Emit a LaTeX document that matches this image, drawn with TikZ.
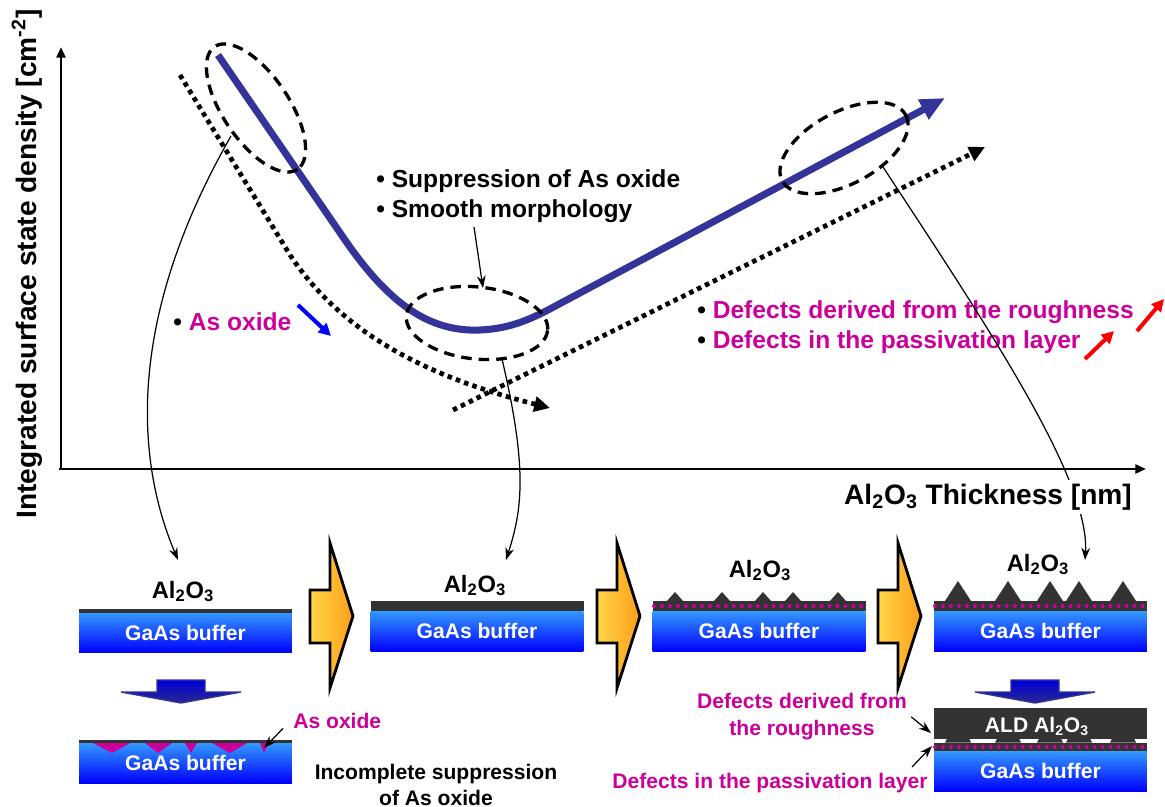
\documentclass[tikz,border=0pt]{standalone}
\usepackage{fontspec}
\setmainfont{Liberation Sans}
\usetikzlibrary{arrows.meta,calc}

\definecolor{curveblue}{RGB}{51,51,153}
\definecolor{pinktext}{RGB}{204,0,153}
\definecolor{gaastop}{RGB}{51,153,255}
\definecolor{gaasbot}{RGB}{0,0,255}
\definecolor{oxgray}{RGB}{51,51,51}
\definecolor{stageyel}{RGB}{255,214,72}
\definecolor{stageorg}{RGB}{255,158,26}
\definecolor{droptop}{RGB}{0,0,215}
\definecolor{dropbot}{RGB}{40,40,140}

% black list mark
\newcommand{\dotmark}{{\color{black}\textbullet}}

\begin{document}
\begin{tikzpicture}[
    x=0.02cm, y=-0.02cm, >=Stealth,
    big/.style={font=\fontsize{14}{17}\selectfont\bfseries, inner sep=0pt},
    mid/.style={font=\fontsize{13.5}{16}\selectfont\bfseries, inner sep=0pt},
    small/.style={font=\fontsize{12}{14.5}\selectfont\bfseries, inner sep=0pt},
    axlbl/.style={font=\fontsize{16}{19}\selectfont\bfseries, inner sep=0pt},
    axis/.style={line width=1.7pt, -{Triangle[length=6pt,width=5pt]}},
    curve/.style={draw=curveblue, line width=4pt, -{Triangle[length=14pt,width=12pt]}},
    trend/.style={line width=2.7pt, dash pattern=on 2.6pt off 2.4pt, -{Triangle[length=9pt,width=8.5pt]}},
    ring/.style={line width=1.9pt, dash pattern=on 6pt off 4pt},
    lead/.style={line width=0.7pt, -{Stealth[length=7pt,width=5pt]}},
    tip/.style={line width=2.3pt, -{Triangle[length=7pt,width=7pt]}},
    buffer/.style={minimum width=4.26cm, minimum height=0.8cm, inner sep=0pt, outer sep=0pt,
        top color=gaastop, bottom color=gaasbot, text=white, font=\fontsize{12}{14}\selectfont\bfseries},
    film/.style={fill=oxgray},
    pdots/.style={draw=pinktext, line width=2.3pt, line cap=round, dash pattern=on 0pt off 4.54pt},
    stage/.style={draw=black, line width=1.6pt, left color=stageyel, right color=stageorg},
    drop/.style={draw=curveblue, line width=0.8pt, top color=droptop, bottom color=dropbot}
]
    \useasboundingbox (0,0) rectangle (1165,807);

    % axes
    \coordinate (origin) at (61,469);
    \coordinate (ytop) at (61,47);
    \coordinate (xend) at (1146,469);
    \draw[axis] (origin) -- (ytop);
    \draw[axis] ([xshift=-1pt]origin) -- (xend);
    \node[axlbl, rotate=90] (ylab) at (27,264) {Integrated surface state density [cm\textsuperscript{-2}]};

    % trends
    \draw[trend] (180,75) -- (290,255) .. controls (340,330) and (420,375) .. (550,408);
    \draw[trend] (453,410) -- (985,147);
    \draw[curve] (218,55) -- (345,240) .. controls (390,305) and (430,332) .. (480,330)
        .. controls (505,329) and (525,322) .. (548,310) -- (945,98);

    % marked regions
    \draw[ring, rotate around={-56:(256,108)}] (256,108) ellipse (74 and 33);
    \draw[ring, rotate around={-6:(477,323)}] (477,323) ellipse (71 and 36);
    \draw[ring, rotate around={28:(844,148)}] (844,148) ellipse (70 and 36);
    \coordinate (e1foot) at (231,136);
    \coordinate (e2head) at (483,288);
    \coordinate (e2foot) at (502,359);
    \coordinate (e3foot) at (883,167);

    % notes on the plot
    \node[big, anchor=base west] (supp) at (376,188) {\dotmark\ Suppression of As oxide};
    \node[big, anchor=base west] (smooth) at (376,218) {\dotmark\ Smooth morphology};
    \node[big, anchor=base west, text=pinktext] (asplot) at (173,330) {\dotmark\ As oxide};
    \node[big, anchor=base west, text=pinktext] (rough) at (697,318) {\dotmark\ Defects derived from the roughness};
    \node[big, anchor=base west, text=pinktext] (passiv) at (697,348) {\dotmark\ Defects in the passivation layer};
    \draw[tip, blue] (298,305) -- (331,336);
    \draw[tip, red] (1137,331) -- (1164,299);
    \draw[tip, red] (1085,359) -- (1114,331);

    % stacks
    \node[buffer] (p1) at (185.5,632.5) {GaAs buffer};
    \node[buffer] (p2) at (477,631) {GaAs buffer};
    \node[buffer] (p3) at (759,631) {GaAs buffer};
    \node[buffer] (p4) at (1040.5,631) {GaAs buffer};
    \node[buffer] (p1b) at (185.5,763) {GaAs buffer};
    \node[buffer] (p5) at (1040.5,771) {GaAs buffer};
    \fill[film] (p1.north west) rectangle ++(213,-3.5);
    \fill[film] (p2.north west) rectangle ++(213,-10);
    \fill[film] (p3.north west) rectangle ++(213,-10);
    \fill[film] (p4.north west) rectangle ++(213,-10);
    \fill[film] (p1b.north west) rectangle ++(213,-3.5);
    \fill[film] (p5.north west) rectangle ++(213,-43);
    \foreach \c in {675,722,763,793,838}
        \fill[film] ({\c-8},601) -- (\c,592) -- ({\c+8},601) -- cycle;
    \foreach \c in {958,1008,1050,1079,1123}
        \fill[film] ({\c-13},601) -- (\c,581) -- ({\c+13},601) -- cycle;
    \fill[white] (934,739) rectangle (1147,742.5);
    \foreach \c in {958,1008,1050,1079,1123}
        \fill[film] ({\c-13},742.5) -- ({\c-11},738.5) -- ({\c+11},738.5) -- ({\c+13},742.5) -- cycle;
    \foreach \a/\b/\t in {93/130/112, 145/172/158, 185/197/191, 212/247/230, 260/268/264}
        \fill[pinktext] (\a,743) -- (\b,743) -- (\t,753) -- cycle;
    \draw[pdots] (654,606) -- (865,606);
    \draw[pdots] (935,606) -- (1147,606);
    \draw[pdots] (935,747) -- (1147,747);

    \node[mid, anchor=base] (al1) at (183,598) {Al\textsubscript{2}O\textsubscript{3}};
    \node[mid, anchor=base] (al2) at (475,592) {Al\textsubscript{2}O\textsubscript{3}};
    \node[mid, anchor=base] (al3) at (760,577) {Al\textsubscript{2}O\textsubscript{3}};
    \node[mid, anchor=base] (al4) at (1038,571) {Al\textsubscript{2}O\textsubscript{3}};
    \node[small, anchor=base, text=white] (ald) at (1037,732) {ALD Al\textsubscript{2}O\textsubscript{3}};

    % process steps
    \foreach \x in {310,597,878}
        \draw[stage] (\x,590) -- ++(20,0) -- ++(0,-47) -- ({\x+43},616) -- ({\x+20},688)
            -- ++(0,-45) -- (\x,643) -- cycle;
    \foreach \c in {181,1035}
        \draw[drop] ({\c-24},680) -- ({\c+24},680) -- ({\c+24},692) -- ({\c+60},692)
            -- (\c,703) -- ({\c-60},692) -- ({\c-24},692) -- cycle;

    % bottom notes
    \node[small, anchor=base west, text=pinktext] (asox) at (293,728) {As oxide};
    \node[small, align=center, anchor=north] (incompl) at (436,764) {Incomplete suppression\\of As oxide};
    \node[small, align=center, anchor=north, text=pinktext] (roughlbl) at (802,693) {Defects derived from\\[1pt]the roughness};
    \node[small, anchor=base, text=pinktext] (passlbl) at (770,788) {Defects in the passivation layer};
    \coordinate (oxpit) at (264,748);
    \coordinate (voids) at (931,733);
    \coordinate (dotrow) at (932,746);
    \draw[lead] ($(asox.west)+(-10,8)$) -- (oxpit);
    \draw[lead] ($(roughlbl.east)+(4,0)$) -- (voids);
    \draw[lead] (912,767) -- (dotrow);

    % leaders from the plot
    \coordinate (in1) at (178,560);
    \coordinate (in2) at (506,560);
    \coordinate (in4) at (1085,560);
    \draw[lead] (e1foot) .. controls (120,330) and (140,470) .. (in1);
    \draw[lead] (474,227) -- (e2head);
    \draw[lead] (e2foot) .. controls (528,470) and (522,510) .. (in2);
    \draw[lead] (e3foot) .. controls (990,330) and (1090,480) .. (in4);
    \node[axlbl, fill=white, inner sep=2pt] (xlab) at (988,497) {Al\textsubscript{2}O\textsubscript{3} Thickness [nm]};
\end{tikzpicture}
\end{document}
